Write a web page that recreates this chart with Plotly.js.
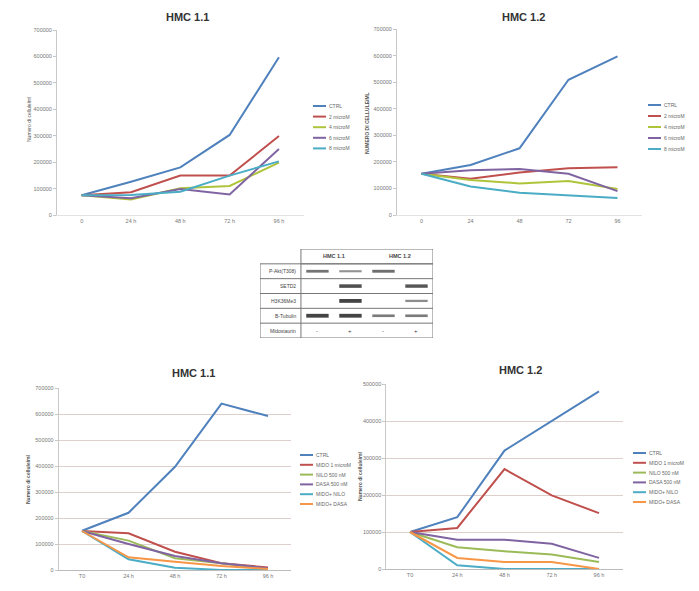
<!DOCTYPE html>
<html><head><meta charset="utf-8">
<script src="https://cdn.plot.ly/plotly-3.0.1.min.js"></script>
<style>html,body{margin:0;padding:0;background:#fff}#chart{width:699px;height:591px}</style>
</head><body><div id="chart"></div><script>
// ---------- data ----------
const topTimes1 = ['0','24 h','48 h','72 h','96 h'];
const topTimes2 = ['0','24','48','72','96'];
const bottomTimes = ['T0','24 h','48 h','72 h','96 h'];
const doseNames = ['CTRL','2 microM','4 microM','6 microM','8 microM'];
const comboNames = ['CTRL','MIDO 1 microM','NILO 500 nM','DASA 500 nM','MIDO+ NILO','MIDO+ DASA'];

// HMC 1.1, doses (top left)
const hmc11_ctrl = [75000,126000,180000,303000,597000];
const hmc11_2 = [75000,86000,149000,149000,299000];
const hmc11_4 = [75000,59000,101000,110000,198000];
const hmc11_6 = [75000,63000,98000,78000,250000];
const hmc11_8 = [75000,76000,88000,149000,203000];

// HMC 1.2, doses (top right)
const hmc12_ctrl = [155000,188000,251000,509000,597000];
const hmc12_2 = [155000,136000,160000,176000,180000];
const hmc12_4 = [155000,132000,119000,128000,98000];
const hmc12_6 = [155000,168000,173000,155000,90000];
const hmc12_8 = [155000,107000,84000,73000,64000];

// HMC 1.1, combinations (bottom left)
const c11_ctrl = [151000,220000,397000,640000,592000];
const c11_mido = [150000,141000,70000,26000,10000];
const c11_nilo = [150000,113000,45000,26000,4000];
const c11_dasa = [150000,100000,54000,26000,6000];
const c11_midoNilo = [150000,41000,9000,0,0];
const c11_midoDasa = [150000,49000,32000,15000,4000];

// HMC 1.2, combinations (bottom right)
const c12_ctrl = [100000,140000,320000,401000,480000];
const c12_mido = [100000,111000,270000,199000,151000];
const c12_nilo = [100000,59000,48000,39000,19000];
const c12_dasa = [100000,79000,79000,68000,30000];
const c12_midoNilo = [100000,10000,0,0,0];
const c12_midoDasa = [100000,30000,19000,19000,0];

// Western blot
const blotRows = ['P-Akt(T308)','SETD2','H3K36Me3','B-Tubulin'];
const blotGroups = ['HMC 1.1','HMC 1.2'];
const blotIntensity = [
  [0.6,0.35,0.65,0],
  [0,0.9,0,0.85],
  [0,1,0,0.4],
  [1,1,0.55,0.55]
];
const midostaurin = ['-','+','-','+'];

// ---------- styling ----------
const topColors = ['#4F81BD','#C0504D','#AFC43A','#8064A2','#4BACC6'];
const botColors = ['#4F81BD','#C0504D','#9BBB59','#8064A2','#4BACC6','#F79646'];
const W = 699, H = 591;
const px = x => x / W, py = y => 1 - y / H;
const FONT = 'Liberation Sans, Arial, sans-serif';

const charts = [
  {title:'HMC 1.1', tx:187, ty:17, cats:topTimes1, names:doseNames, colors:topColors,
   series:[hmc11_ctrl,hmc11_2,hmc11_4,hmc11_6,hmc11_8],
   xd:[57,303.6], yd:[30,215], ymax:700000, grid:false,
   ytitle:'Numero di cellule/ml', ytx:29, yty:120, ytbold:false,
   leg:{x:313, y:106, dy:10.6}},
  {title:'HMC 1.2', tx:523, ty:17, cats:topTimes2, names:doseNames, colors:topColors,
   series:[hmc12_ctrl,hmc12_2,hmc12_4,hmc12_6,hmc12_8],
   xd:[397,642], yd:[29,215], ymax:700000, grid:false,
   ytitle:'NUMERO DI CELLULE/ML', ytx:367, yty:123, ytbold:true,
   leg:{x:648, y:105, dy:11}},
  {title:'HMC 1.1', tx:193, ty:373, cats:bottomTimes, names:comboNames, colors:botColors,
   series:[c11_ctrl,c11_mido,c11_nilo,c11_dasa,c11_midoNilo,c11_midoDasa],
   xd:[58.75,291.25], yd:[388,570], ymax:700000, grid:true,
   ytitle:'Numero di cellule/ml', ytx:28, yty:479, ytbold:true,
   leg:{x:300, y:455, dy:9.8}},
  {title:'HMC 1.2', tx:520, ty:370, cats:bottomTimes, names:comboNames, colors:botColors,
   series:[c12_ctrl,c12_mido,c12_nilo,c12_dasa,c12_midoNilo,c12_midoDasa],
   xd:[386.4,622.6], yd:[384,569], ymax:500000, grid:true,
   ytitle:'Numero di cellule/ml', ytx:360, yty:476, ytbold:true,
   leg:{x:633, y:453, dy:9.8}}
];

const data = [], annotations = [], shapes = [];
const layout = {
  width: W, height: H, margin:{l:0,r:0,t:0,b:0},
  paper_bgcolor:'#fff', plot_bgcolor:'rgba(0,0,0,0)',
  showlegend:false, font:{family:FONT, color:'#666'}
};

charts.forEach((c, i) => {
  const n = i + 1, sfx = n === 1 ? '' : String(n);
  c.series.forEach((ys, k) => {
    data.push({type:'scatter', mode:'lines', x:c.cats, y:ys, name:c.names[k],
      xaxis:'x'+sfx, yaxis:'y'+sfx,
      line:{color:c.colors[k], width:2}, hoverinfo:'x+y+name'});
    // manual legend entry
    const ly = c.leg.y + k * c.leg.dy;
    shapes.push({type:'line', xref:'paper', yref:'paper',
      x0:px(c.leg.x), x1:px(c.leg.x+13), y0:py(ly), y1:py(ly),
      line:{color:c.colors[k], width:2}});
    annotations.push({xref:'paper', yref:'paper', x:px(c.leg.x+14), y:py(ly),
      xanchor:'left', yanchor:'middle', text:c.names[k], showarrow:false,
      font:{size:5, color:'#666', family:FONT}});
  });
  layout['xaxis'+sfx] = {
    domain:[px(c.xd[0]), px(c.xd[1])], anchor:'y'+sfx, type:'category',
    categoryorder:'array', categoryarray:c.cats, range:[-0.5,4.5],
    showgrid:false, zeroline:false, showline:true, linecolor:c.grid ? '#bbb' : '#e2e2e2', linewidth:1,
    ticks:'', tickfont:{size:5.5, color:'#777', family:FONT}, fixedrange:true
  };
  layout['yaxis'+sfx] = {
    domain:[py(c.yd[1]), py(c.yd[0])], anchor:'x'+sfx, range:[0, c.ymax], dtick:100000,
    tickformat:'d', showgrid:c.grid, gridcolor:'#ddd0cc', gridwidth:1, zeroline:false,
    showline:true, linecolor:'#c8c8c8', linewidth:1, ticks:'outside', ticklen:3, tickcolor:'#c8c8c8',
    tickfont:{size:5.5, color:'#777', family:FONT}, fixedrange:true
  };
  annotations.push({xref:'paper', yref:'paper', x:px(c.tx), y:py(c.ty),
    text:'<b>'+c.title+'</b>', showarrow:false, xanchor:'center', yanchor:'middle',
    font:{size:11, color:'#333', family:FONT}});
  annotations.push({xref:'paper', yref:'paper', x:px(c.ytx), y:py(c.yty), textangle:-90,
    text:c.ytbold ? '<b>'+c.ytitle+'</b>' : c.ytitle, showarrow:false,
    xanchor:'center', yanchor:'middle', font:{size:5, color:'#555', family:FONT}});
});

// ---------- western blot panel ----------
const labelLeft = -1.74;
layout.xaxis5 = {domain:[px(260), px(433)], range:[labelLeft, 3.5], visible:false, anchor:'y5', fixedrange:true};
layout.yaxis5 = {domain:[py(338), py(249)], range:[5.5, -0.5], visible:false, anchor:'x5', fixedrange:true};
const bc = '#777';
shapes.push({type:'rect', xref:'x5', yref:'y5', x0:-0.5, x1:3.5, y0:-0.5, y1:0.5, line:{color:bc, width:1}});
shapes.push({type:'rect', xref:'x5', yref:'y5', x0:labelLeft, x1:3.5, y0:0.5, y1:5.5, line:{color:bc, width:1}});
shapes.push({type:'line', xref:'x5', yref:'y5', x0:-0.5, x1:-0.5, y0:0.5, y1:5.5, line:{color:bc, width:1}});
const allRows = blotRows.concat(['Midostaurin']);
allRows.forEach((r, j) => {
  const row = j + 1;
  if (row < allRows.length) {
    shapes.push({type:'line', xref:'x5', yref:'y5', x0:labelLeft, x1:3.5, y0:row+0.5, y1:row+0.5, line:{color:bc, width:1}});
  }
  annotations.push({xref:'x5', yref:'y5', x:-0.6, y:row, text:r, showarrow:false,
    xanchor:'right', yanchor:'middle', font:{size:5, color:'#444', family:FONT}});
});
blotGroups.forEach((g, gi) => {
  annotations.push({xref:'x5', yref:'y5', x:gi*2+0.5, y:0, text:'<b>'+g+'</b>', showarrow:false,
    xanchor:'center', yanchor:'middle', font:{size:5.5, color:'#444', family:FONT}});
});
midostaurin.forEach((s, li) => {
  annotations.push({xref:'x5', yref:'y5', x:li, y:allRows.length, text:s, showarrow:false,
    xanchor:'center', yanchor:'middle', font:{size:6, color:'#444', family:FONT}});
});
const bx = [], by = [], bw = [], bcol = [];
blotIntensity.forEach((rowVals, j) => {
  rowVals.forEach((v, li) => {
    if (v > 0) {
      bx.push(li); by.push(j + 1);
      bw.push(1.2 + 2.6 * v);
      bcol.push('rgba(35,35,35,' + (0.3 + 0.55 * v).toFixed(2) + ')');
    }
  });
});
data.push({type:'scatter', mode:'markers', x:bx, y:by, xaxis:'x5', yaxis:'y5',
  marker:{symbol:'line-ew', size:16, line:{width:bw, color:bcol}}, hoverinfo:'skip'});

layout.shapes = shapes;
layout.annotations = annotations;
Plotly.newPlot('chart', data, layout, {displayModeBar:false, staticPlot:true});
</script></body></html>
